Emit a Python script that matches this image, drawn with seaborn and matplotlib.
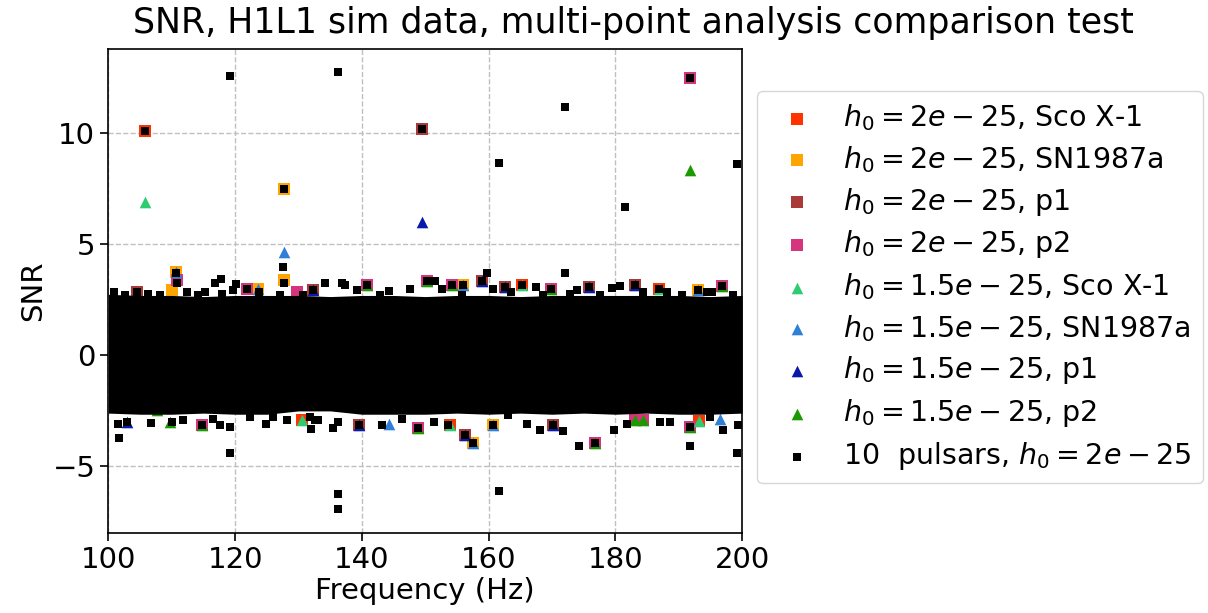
import matplotlib
matplotlib.use("Agg")
import matplotlib.pyplot as plt
import seaborn as sns
import pandas as pd

# ---------------- data ----------------
# dense noise band of all series: envelope every 5 Hz
band_freq = [100, 105, 110, 115, 120, 125, 130, 135, 140, 145, 150,
             155, 160, 165, 170, 175, 180, 185, 190, 195, 200]
band_upper = [2.75, 2.7, 2.7, 2.65, 2.7, 2.7, 2.7, 2.65, 2.7, 2.7, 2.65,
              2.7, 2.7, 2.65, 2.7, 2.7, 2.7, 2.7, 2.7, 2.65, 2.7]
band_lower = [-2.6, -2.65, -2.65, -2.6, -2.65, -2.65, -2.5, -2.5, -2.65, -2.65, -2.65,
              -2.6, -2.65, -2.6, -2.65, -2.6, -2.65, -2.6, -2.65, -2.65, -2.6]

# h0 = 2e-25 (squares)
scox1_a_f = [105.8, 165.2, 186.9, 130.5, 153.9, 193.2]
scox1_a_s = [10.1, 3.18, 3.0, -2.93, -3.15, -2.97]
sn87_a_f = [127.7, 127.7, 110.6, 110.0, 123.6, 156.0, 193.1, 157.6, 160.7]
sn87_a_s = [7.5, 3.38, 3.75, 2.93, 3.0, 3.18, 2.96, -3.93, -3.15]
p1_a_f = [149.5, 104.5, 132.3, 158.9, 162.6, 175.9, 183.1, 139.6, 156.3, 170.2]
p1_a_s = [10.2, 2.85, 2.93, 3.33, 3.08, 3.08, 3.18, -3.12, -3.57, -3.15]
p2_a_f = [191.8, 110.8, 121.8, 129.7, 140.8, 150.2, 154.2, 169.8, 196.9,
          114.7, 148.9, 176.8, 183.1, 184.4, 191.8]
p2_a_s = [12.5, 3.38, 3.0, 2.85, 3.18, 3.33, 3.18, 3.0, 3.12,
          -3.15, -3.26, -3.93, -2.93, -2.93, -3.23]

# h0 = 1.5e-25 (triangles)
scox1_b_f = [105.8, 165.2, 186.9, 130.5, 153.9, 193.2]
scox1_b_s = [6.9, 3.18, 3.0, -2.93, -3.15, -2.97]
sn87_b_f = [127.7, 110.6, 123.6, 156.0, 193.1, 157.6, 160.7, 144.2, 196.5]
sn87_b_s = [4.65, 3.75, 3.0, 3.18, 2.96, -3.93, -3.15, -3.08, -2.85]
p1_b_f = [149.5, 132.3, 158.9, 162.6, 175.9, 183.1, 139.6, 156.3, 170.2, 102.9]
p1_b_s = [6.0, 2.93, 3.33, 3.08, 3.08, 3.18, -3.12, -3.57, -3.15, -3.0]
p2_b_f = [191.8, 140.8, 150.2, 154.2, 169.8, 196.9, 114.7, 148.9, 176.8,
          183.1, 184.4, 191.8, 109.7, 107.6]
p2_b_s = [8.33, 3.18, 3.33, 3.18, 3.0, 3.12, -3.15, -3.26, -3.93,
          -2.93, -2.93, -3.23, -3.0, -2.48]

# 10 pulsars, h0 = 2e-25 (small black squares)
pulsars_f = [119.2, 136.2, 161.7, 172.0, 181.6, 199.2, 127.5, 105.8, 127.7, 149.5, 191.8,
             159.8, 172.1, 110.7, 110.8, 116.8, 117.8, 127.7,
             100.8, 102.6, 106.3, 108.1, 112.4, 114.2, 115.2, 117.9, 119.7, 120.2, 123.7,
             127.1, 130.7, 134.2, 136.9, 137.4, 139.2, 142.9, 144.3, 147.6, 151.5, 152.6,
             155.8, 160.7, 163.6, 167.4, 168.6, 172.8, 173.9, 177.6, 179.5, 180.7, 184.4,
             188.1, 190.5, 194.4, 195.2, 198.6, 140.8, 150.2, 154.2, 156.0, 158.9, 162.6,
             165.2, 169.8, 175.9, 183.1, 186.9, 193.1, 196.9, 104.5, 121.8, 132.3,
             101.7, 119.2, 136.2, 136.2, 161.7, 174.2, 191.8, 199.2, 176.8, 157.6, 156.3,
             132.0, 135.4, 136.3, 101.5, 106.7, 110.0, 119.2, 124.8, 125.9, 131.8, 111.8,
             116.5, 117.6, 122.3, 128.1, 132.6, 133.1, 139.6, 143.1, 146.3, 148.9, 151.3,
             153.6, 160.7, 163.1, 166.1, 168.1, 170.2, 171.8, 179.8, 181.8, 187.1, 188.6,
             191.8, 194.9, 197.0, 199.3, 114.7, 102.9]
pulsars_s = [12.6, 12.75, 8.65, 11.17, 6.67, 8.6, 4.0, 10.1, 7.5, 10.2, 12.5,
             3.72, 3.72, 3.7, 3.27, 3.27, 3.45, 3.27,
             2.85, 2.7, 2.78, 2.7, 2.85, 2.73, 2.85, 2.78, 2.93, 3.23, 2.85,
             2.73, 2.7, 3.27, 3.27, 3.18, 2.96, 2.73, 2.88, 3.0, 3.35, 3.0,
             2.73, 3.0, 2.85, 3.08, 2.7, 2.78, 2.93, 2.7, 3.05, 3.12, 2.85,
             2.85, 2.73, 2.85, 2.85, 2.7, 3.18, 3.33, 3.18, 3.18, 3.33, 3.08,
             3.18, 3.0, 3.08, 3.18, 3.0, 2.96, 3.12, 2.85, 3.0, 2.93,
             -3.71, -4.38, -6.25, -6.9, -6.1, -4.1, -4.1, -4.38, -3.93, -3.93, -3.57,
             -3.3, -3.26, -3.0, -3.08, -3.03, -3.0, -3.23, -3.08, -2.78, -2.78, -2.93,
             -2.85, -3.12, -2.78, -2.93, -2.93, -2.93, -3.12, -3.12, -2.85, -3.26, -3.0,
             -3.15, -3.15, -2.7, -3.08, -3.35, -3.15, -3.42, -3.38, -3.08, -3.0, -3.0,
             -3.23, -2.78, -3.38, -3.12, -3.15, -3.0]

labels = [r"$h_0 = 2e-25$, Sco X-1", r"$h_0 = 2e-25$, SN1987a",
          r"$h_0 = 2e-25$, p1", r"$h_0 = 2e-25$, p2",
          r"$h_0 = 1.5e-25$, Sco X-1", r"$h_0 = 1.5e-25$, SN1987a",
          r"$h_0 = 1.5e-25$, p1", r"$h_0 = 1.5e-25$, p2",
          r"10  pulsars, $h_0 = 2e-25$"]

# ---------------- styling ----------------
sns.set_theme(style="ticks")
plt.rcParams["font.family"] = ["DejaVu Sans"]
plt.rcParams["mathtext.fontset"] = "dejavusans"
for key in ["text.color", "axes.labelcolor", "xtick.color", "ytick.color", "axes.edgecolor"]:
    plt.rcParams[key] = "black"

fig = plt.figure(figsize=(12.08, 6.13), dpi=100)
ax = fig.add_axes([0.0898, 0.1305, 0.5245, 0.7895])

series = [
    (scox1_a_f, scox1_a_s, "#ff3300", "s", 85),
    (sn87_a_f, sn87_a_s, "#ffa500", "s", 85),
    (p1_a_f, p1_a_s, "#aa3a3a", "s", 85),
    (p2_a_f, p2_a_s, "#d6347f", "s", 85),
    (scox1_b_f, scox1_b_s, "#2ecc71", "^", 70),
    (sn87_b_f, sn87_b_s, "#2f7fd6", "^", 70),
    (p1_b_f, p1_b_s, "#0a1aa8", "^", 70),
    (p2_b_f, p2_b_s, "#1a9a00", "^", 70),
]

for (f, s, c, m, sz), lab in zip(series, labels[:8]):
    df = pd.DataFrame({"Frequency": f, "SNR": s})
    sns.scatterplot(data=df, x="Frequency", y="SNR", color=c, marker=m, s=sz,
                    linewidth=0, ax=ax, label=lab, zorder=2)

ax.fill_between(band_freq, band_lower, band_upper, color="black", linewidth=0, zorder=3)
dfp = pd.DataFrame({"Frequency": pulsars_f, "SNR": pulsars_s})
sns.scatterplot(data=dfp, x="Frequency", y="SNR", color="black", marker="s", s=26,
                linewidth=0, ax=ax, label=labels[8], zorder=4)

ax.set_xlim(100, 200)
ax.set_ylim(-8.0, 13.8)
ax.set_xticks([100, 120, 140, 160, 180, 200])
ax.set_yticks([-5, 0, 5, 10])
ax.grid(True, linestyle="--", color="#c0c0c0", linewidth=1.0)
ax.set_axisbelow(True)
for sp in ax.spines.values():
    sp.set_visible(True)
    sp.set_color("black")
    sp.set_linewidth(1.2)
ax.tick_params(axis="both", labelsize=21, direction="out", length=6, width=1.2, colors="black")
ax.set_xlabel("Frequency (Hz)", fontsize=21, labelpad=2)
ax.set_ylabel("SNR", fontsize=21)
fig.text(0.524, 0.963, "SNR, H1L1 sim data, multi-point analysis comparison test",
         fontsize=25, ha="center", va="center")

leg = ax.legend(loc="center left", bbox_to_anchor=(1.024, 0.508), fontsize=20.5,
                frameon=True, fancybox=True, framealpha=0.8, edgecolor="#cccccc",
                handletextpad=0.6, borderpad=0.4, borderaxespad=0, labelspacing=0.38)
for t in leg.get_texts():
    t.set_color("black")

fig.savefig("out.png", dpi=100)
